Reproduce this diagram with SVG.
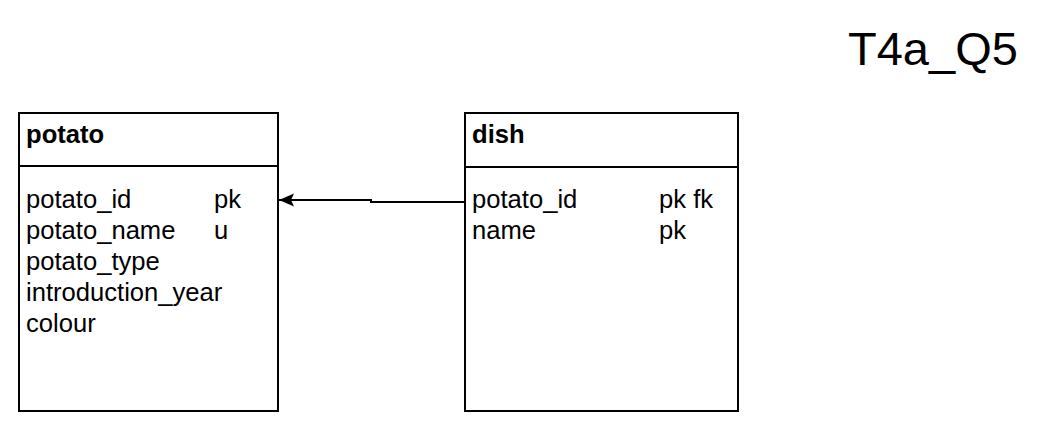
<svg xmlns="http://www.w3.org/2000/svg" width="1056" height="442" viewBox="0 0 1056 442">
<style>
.box{fill:#fff;stroke:#000;stroke-width:2}
.t{font-family:"Liberation Sans",Arial,sans-serif;font-size:25.6px;fill:#000}
.h{font-weight:bold}
.c{fill:none;stroke:#000;stroke-width:2}
</style>
<defs>
<marker id="arr" markerWidth="18" markerHeight="16" refX="15" refY="7" orient="auto" markerUnits="userSpaceOnUse" overflow="visible">
<path d="M0,0.5 L15,7 L0,13.5 L3,7 Z" fill="#000"/>
</marker>
</defs>
<rect width="1056" height="442" fill="#fff"/>
<text x="848" y="65" font-family="'Liberation Sans',Arial,sans-serif" font-size="47" fill="#000">T4a_Q5</text>
<g id="potato">
<rect class="box" x="19" y="113" width="259" height="298"/>
<line class="c" x1="19" y1="166" x2="278" y2="166"/>
<text class="t h" x="26" y="143">potato</text>
<text class="t" x="26" y="208">potato_id</text>
<text class="t" x="214" y="208">pk</text>
<text class="t" x="26" y="239">potato_name</text>
<text class="t" x="214" y="239">u</text>
<text class="t" x="26" y="270">potato_type</text>
<text class="t" x="26" y="301">introduction_year</text>
<text class="t" x="26" y="332">colour</text>
</g>
<g id="dish">
<rect class="box" x="465" y="113" width="273" height="298"/>
<line class="c" x1="465" y1="167" x2="738" y2="167"/>
<text class="t h" x="472" y="143">dish</text>
<text class="t" x="472" y="208">potato_id</text>
<text class="t" x="659" y="208">pk fk</text>
<text class="t" x="472" y="239">name</text>
<text class="t" x="659" y="239">pk</text>
</g>
<g id="connectors">
<path class="c" d="M465,202 L371,202 L371,200 L279,200" marker-end="url(#arr)"/>
</g>
</svg>
